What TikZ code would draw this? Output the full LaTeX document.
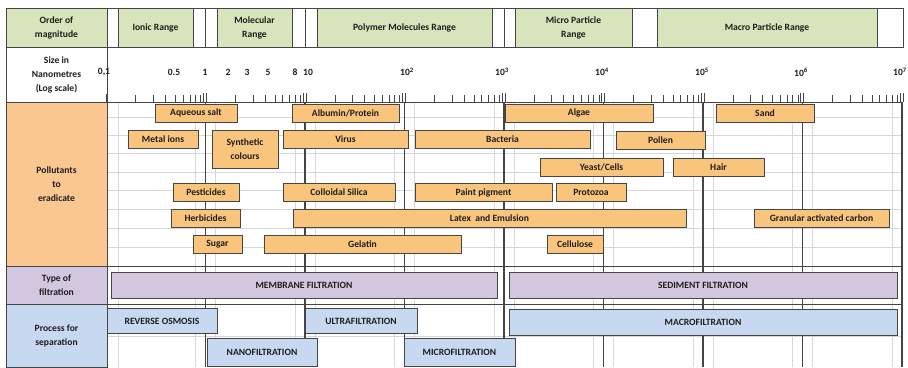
\documentclass[tikz,border=0pt]{standalone}
\usepackage{fontspec}
\setmainfont{Carlito}
\usetikzlibrary{positioning}
\definecolor{edgegray}{HTML}{454545}
\definecolor{gridgray}{HTML}{D4D8DE}
\definecolor{rangegreen}{HTML}{D7E4BC}
\definecolor{pollorange}{HTML}{FAC790}
\definecolor{boxorange}{HTML}{F9C47C}
\definecolor{filtpurple}{HTML}{D3C7DF}
\definecolor{procblue}{HTML}{C6D9F0}
\definecolor{inkgray}{HTML}{1E1E1E}
\newcommand\chartfont{\fontsize{9.6}{14}\selectfont\bfseries}

\begin{document}
\begin{tikzpicture}[
    x=1pt, y=-1pt,
    cell/.style={draw=edgegray, line width=0.8pt, inner sep=0pt, align=center, font=\chartfont, text=inkgray},
    gbox/.style={cell, fill=rangegreen, minimum height=39},
    pbox/.style={cell, fill=boxorange, minimum height=18},
    fbox/.style={cell, fill=filtpurple, minimum height=26},
    sbox/.style={cell, fill=procblue, minimum height=25},
    sizelbl/.style={font=\chartfont, text=inkgray, inner sep=0pt},
    tick/.style={edgegray, line width=0.9pt},
    decade/.style={edgegray, line width=1.3pt},
    gridline/.style={gridgray, line width=0.6pt},
]
\useasboundingbox (0,0) rectangle (908,367);
\fill[white] (0,0) rectangle (908,367);

% light grid of the chart body
\foreach \k in {1,...,8} {
    \draw[gridline] ({106+99.5*\k-10},102) -- ({106+99.5*\k-10},367);
    \draw[gridline] ({106+99.5*\k+10},102) -- ({106+99.5*\k+10},367);
}
\draw[gridline] (118,102) -- (118,367);
\foreach \y in {117,135,153,172,190,209,228,247,336} {
    \draw[gridline] (107,\y) -- (903,\y);
}

% decade lines
\foreach \k in {1,...,8} {
    \draw[decade] ({106+99.5*\k},102) -- ({106+99.5*\k},367);
}
\draw[edgegray, line width=1pt] (107,266) -- (903,266);
\draw[edgegray, line width=1pt] (107,304) -- (903,304);

% left column
\node[cell, fill=rangegreen, minimum width=101, minimum height=39] (lorder) at (56.5,27.5) {Order of\\magnitude};
\node[cell, fill=white, minimum width=101, minimum height=55] (lsize) at (56.5,74.5) {Size in\\Nanometres\\(Log scale)};
\node[cell, fill=pollorange, minimum width=101, minimum height=164] (lpoll) at (56.5,184) {Pollutants\\to\\eradicate};
\node[cell, fill=filtpurple, minimum width=101, minimum height=38] (ltype) at (56.5,285) {Type of\\filtration};
\node[cell, fill=procblue, minimum width=101, minimum height=63] (lproc) at (56.5,335.5) {Process for\\separation};

% order of magnitude row
\draw[edgegray, line width=0.8pt, fill=white] (107,8) rectangle (903,47);
\foreach \x in {205.5,305,504} {
    \draw[edgegray, line width=0.8pt] (\x,8) -- (\x,47);
}
\node[gbox, minimum width=75] (ionic) at (155.5,27.5) {Ionic Range};
\node[gbox, minimum width=75] (molec) at (254.5,27.5) {Molecular\\Range};
\node[gbox, minimum width=175] (polym) at (404.5,27.5) {Polymer Molecules Range};
\node[gbox, minimum width=117] (micro) at (573.5,27.5) {Micro Particle\\Range};
\node[gbox, minimum width=220] (macro) at (767,27.5) {Macro Particle Range};

% size labels
\node[sizelbl] (s01) at (104,72) {0,1};
\node[sizelbl] (s05) at (174,72) {0.5};
\node[sizelbl] (s1) at (205,72) {1};
\node[sizelbl] (s2) at (228,72) {2};
\node[sizelbl] (s3) at (247,72) {3};
\node[sizelbl] (s5) at (268,72) {5};
\node[sizelbl] (s8) at (295,72) {8};
\node[sizelbl] (s10) at (308,72) {10};
\node[sizelbl] (s1e2) at (407,72) {10\textsuperscript{2}};
\node[sizelbl] (s1e3) at (502,72) {10\textsuperscript{3}};
\node[sizelbl] (s1e4) at (602,72) {10\textsuperscript{4}};
\node[sizelbl] (s1e5) at (702,72) {10\textsuperscript{5}};
\node[sizelbl] (s1e6) at (801,72) {10\textsuperscript{6}};
\node[sizelbl] (s1e7) at (900,72) {10\textsuperscript{7}};

% log scale ticks
\draw[edgegray, line width=0.8pt] (107,102) -- (903,102);
\draw[tick] (106,94) -- (106,102);
\foreach \k in {0,...,7} {
    \foreach \m in {2,...,9} {
        \draw[tick] ({106+99.5*(\k+log10(\m))},95) -- ({106+99.5*(\k+log10(\m))},102);
    }
}
\foreach \k in {1,...,8} {
    \draw[tick] ({106+99.5*\k-2},93) -- ({106+99.5*\k-2},102);
    \draw[tick] ({106+99.5*\k+1},93) -- ({106+99.5*\k+1},102);
}

% pollutants
\node[pbox, minimum width=82] (aqsalt) at (196,113) {Aqueous salt};
\node[pbox, minimum width=107] (albumin) at (345.5,113) {Albumin/Protein};
\node[pbox, minimum width=148] (algae) at (579,113) {Algae};
\node[pbox, minimum width=98] (sand) at (765,113) {Sand};
\node[pbox, minimum width=70] (metal) at (163,139) {Metal ions};
\node[pbox, minimum width=66, minimum height=38] (synth) at (245,149) {Synthetic\\colours};
\node[pbox, minimum width=125] (virus) at (345.5,139) {Virus};
\node[pbox, minimum width=175] (bacteria) at (502.5,139) {Bacteria};
\node[pbox, minimum width=89] (pollen) at (660.5,140) {Pollen};
\node[pbox, minimum width=123] (yeast) at (601.5,167) {Yeast/Cells};
\node[pbox, minimum width=91] (hair) at (718.5,167) {Hair};
\node[pbox, minimum width=66] (pestic) at (206,192.5) {Pesticides};
\node[pbox, minimum width=112] (silica) at (339,192.5) {Colloidal Silica};
\node[pbox, minimum width=137] (paint) at (483.5,192.5) {Paint pigment};
\node[pbox, minimum width=70] (protozoa) at (591,192.5) {Protozoa};
\node[pbox, minimum width=69] (herbic) at (205.5,218.5) {Herbicides};
\node[pbox, minimum width=393] (latex) at (489.5,218.5) {Latex\ \ and Emulsion};
\node[pbox, minimum width=135] (carbon) at (821.5,218.5) {Granular activated carbon};
\node[pbox, minimum width=49] (sugar) at (217.5,244.5) {Sugar};
\node[pbox, minimum width=197] (gelatin) at (362.5,244.5) {Gelatin};
\node[pbox, minimum width=56] (cellul) at (575,244.5) {Cellulose};

% type of filtration
\node[fbox, minimum width=386] (membrane) at (304,285) {MEMBRANE FILTRATION};
\node[fbox, minimum width=388] (sediment) at (703,285) {SEDIMENT FILTRATION};

% process for separation
\node[sbox, minimum width=110] (revosm) at (162,321) {REVERSE OSMOSIS};
\node[sbox, minimum width=112] (ultraf) at (361,321) {ULTRAFILTRATION};
\node[sbox, minimum width=388, minimum height=26] (macrof) at (703,322) {MACROFILTRATION};
\node[sbox, minimum width=110, minimum height=28] (nanof) at (262,352) {NANOFILTRATION};
\node[sbox, minimum width=111, minimum height=28] (microf) at (459.5,352) {MICROFILTRATION};

\end{tikzpicture}
\end{document}
